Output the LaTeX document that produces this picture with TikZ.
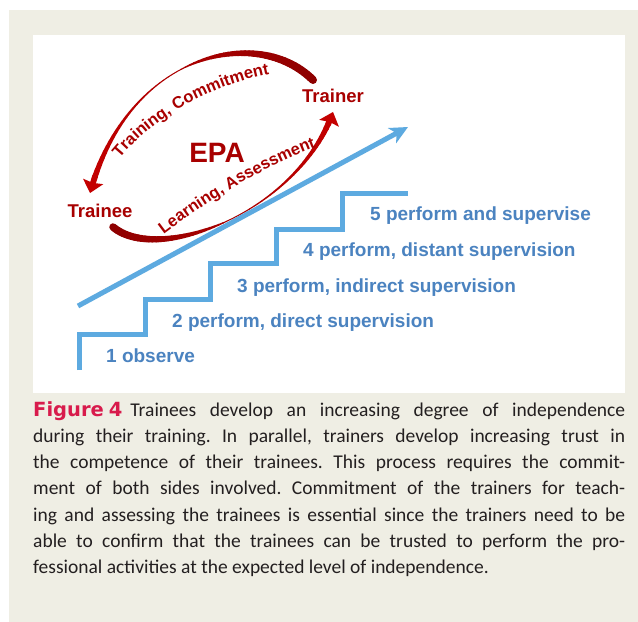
\documentclass[tikz,border=0pt]{standalone}
\usepackage{fontspec}
\setmainfont{Carlito}
\newfontfamily\arialfam{Liberation Sans}
\newfontfamily\figfam{DejaVu Sans}
\usetikzlibrary{arrows.meta,decorations.text,calc}
\definecolor{beige}{HTML}{EFEEE4}
\definecolor{stairblue}{HTML}{5DAAE0}
\definecolor{textblue}{HTML}{4B83C0}
\definecolor{epared}{HTML}{A80000}
\definecolor{arcdark}{HTML}{8C0000}
\definecolor{arcbright}{HTML}{C40000}
\definecolor{figred}{HTML}{D81B4C}
\definecolor{captext}{HTML}{231F20}
\newcommand\arcfont{\arialfam\bfseries\fontsize{16.5bp}{18bp}\selectfont\color{epared}}
% tapered cubic arc: x0 y0 x1 y1 x2 y2 x3 y3 ; uses \wA \wM \wB \tM \tE
\newcommand\taperarc[8]{%
  \foreach \i in {0,...,59}{%
    \pgfmathsetmacro\ta{\i/60*\tE}%
    \pgfmathsetmacro\tb{(\i+1)/60*\tE}%
    \pgfmathsetmacro\xa{(1-\ta)^3*#1+3*(1-\ta)^2*\ta*#3+3*(1-\ta)*\ta^2*#5+\ta^3*#7}%
    \pgfmathsetmacro\ya{(1-\ta)^3*#2+3*(1-\ta)^2*\ta*#4+3*(1-\ta)*\ta^2*#6+\ta^3*#8}%
    \pgfmathsetmacro\xb{(1-\tb)^3*#1+3*(1-\tb)^2*\tb*#3+3*(1-\tb)*\tb^2*#5+\tb^3*#7}%
    \pgfmathsetmacro\yb{(1-\tb)^3*#2+3*(1-\tb)^2*\tb*#4+3*(1-\tb)*\tb^2*#6+\tb^3*#8}%
    \pgfmathsetmacro\tmid{(\ta+\tb)/2}%
    \pgfmathsetmacro\w{\tmid<\tM ? \wM+(\wA-\wM)*(1-(\tmid/\tM)^2) : \wM+(\wB-\wM)*((\tmid-\tM)/(\tE-\tM))^2}%
    \pgfmathtruncatemacro\cp{100*(1-\tmid)}%
    \draw[line width=\w bp, line cap=round, color=arcdark!\cp!arcbright] (\xa,\ya) -- (\xb,\yb);
  }%
}
\newcommand\archead[4]{%
  \coordinate (hT) at (#1,#2);
  \coordinate (hP) at (#3,#4);
  \coordinate (hB) at ($(hT)!12bp!(hP)$);
  \fill[arcbright] (hT) -- ($(hB)!10.5bp!90:(hT)$) -- ($(hT)!10.5bp!(hP)$) -- ($(hB)!10.5bp!-90:(hT)$) -- cycle;
}
\newcommand\capline[3]{\node[capstyle] (#1) at (33,#2) {\makebox[592bp][s]{#3}};}
\begin{document}
\frenchspacing
\begin{tikzpicture}[x=1bp,y=-1bp,
  blueline/.style={draw=stairblue,line width=5bp},
  stairlabel/.style={anchor=base west,inner sep=0pt,text=textblue,font=\arialfam\bfseries\fontsize{19bp}{21bp}\selectfont},
  actor/.style={inner sep=0pt,text=epared,font=\arialfam\bfseries\fontsize{18.5bp}{20bp}\selectfont},
  capstyle/.style={anchor=base west,inner sep=0pt,text=captext,font=\fontsize{19.5bp}{22bp}\selectfont}]
\useasboundingbox (0,0) rectangle (638,622);
\fill[white] (0,0) rectangle (638,622);
\fill[beige] (9,10) rectangle (638,622);
\fill[white] (33,35) rectangle (625,393);

% red cycle arcs
\def\wA{8}\def\wM{1}\def\wB{6}\def\tM{0.55}\def\tE{0.975}
\taperarc{313}{80}{257}{24}{128}{53}{90}{193}
\archead{90}{193}{128}{53}
\def\wA{7.5}\def\wM{1}\def\wB{6}\def\tM{0.5}\def\tE{0.975}
\taperarc{113}{227}{158}{265}{298}{212}{333}{112}
\archead{333}{112}{298}{212}

% arc labels
\path[decorate, decoration={text along path, text align=center,
  text={|\arcfont|Training, Commitment}}]
  (116,163) .. controls (148,121) and (208,85) .. (275,73);
\path[decorate, decoration={text along path, text align=center,
  text={|\arcfont|Learning, Assessment}}]
  (161,236) .. controls (199,207) and (259,168) .. (319,146);

\node[actor] (trainer) at (333,96) {Trainer};
\node[actor] (trainee) at (100,211) {Trainee};
\node[actor,font=\arialfam\bfseries\fontsize{28bp}{30bp}\selectfont] (epa) at (217,153) {EPA};

% blue progress arrow and staircase
\coordinate (dS) at (78,306);
\coordinate (dE) at (408,127);
\draw[blueline,-{Stealth[length=18bp,width=17bp,inset=5bp]}] (dS) -- (dE);
\coordinate (s0) at (79,370);
\coordinate (s1) at (145,334);
\coordinate (s2) at (210,299);
\coordinate (s3) at (276,263);
\coordinate (s4) at (342,229);
\coordinate (s5) at (408,193);
\draw[blueline,line join=miter] (s0) |- (s1) |- (s2) |- (s3) |- (s4) |- (s5);

\node[stairlabel] (l1) at (106,362) {1 observe};
\node[stairlabel] (l2) at (172,327) {2 perform, direct supervision};
\node[stairlabel] (l3) at (237,292) {3 perform, indirect supervision};
\node[stairlabel] (l4) at (303,256) {4 perform, distant supervision};
\node[stairlabel] (l5) at (370,220) {5 perform and supervise};

% caption
\capline{c1}{416}{\mbox{\textcolor{figred}{\figfam\bfseries\fontsize{19.5bp}{22bp}\selectfont Figure\kern5bp 4}}\kern 8bp Trainees develop an increasing degree of independence}
\capline{c2}{442.3}{during their training. In parallel, trainers develop increasing trust in}
\capline{c3}{468.6}{the competence of their trainees. This process requires the commit-}
\capline{c4}{494.9}{ment of both sides involved. Commitment of the trainers for teach-}
\capline{c5}{521.2}{ing and assessing the trainees is essential since the trainers need to be}
\capline{c6}{547.5}{able to confirm that the trainees can be trusted to perform the pro-}
\node[capstyle] (c7) at (33,573.8) {fessional activities at the expected level of independence.};
\end{tikzpicture}
\end{document}
